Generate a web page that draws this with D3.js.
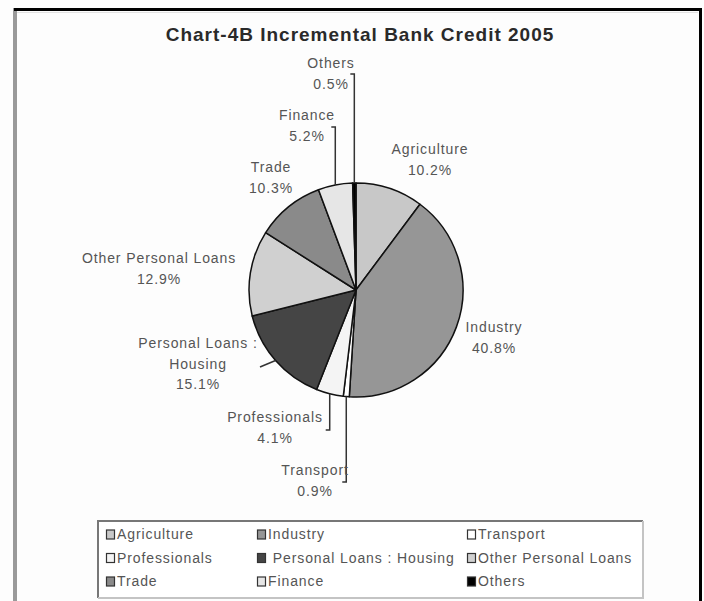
<!DOCTYPE html>
<html>
 <head>
  <title>Chart-4B Incremental Bank Credit 2005</title>
  <script src="https://cdnjs.cloudflare.com/ajax/libs/d3/7.8.3/d3.min.js"></script>
  <style>
   body { margin: 0; background: #fff; }
   text { font-family: "Liberation Sans", Arial, sans-serif; }
  </style>
 </head>
 <body>
  <script>
   // data (order = clockwise from 12 o'clock)
   const categories = ["Agriculture", "Industry", "Transport", "Professionals",
                       "Personal Loans : Housing", "Other Personal Loans", "Trade", "Finance", "Others"];
   const shares = [10.2, 40.8, 0.9, 4.1, 15.1, 12.9, 10.3, 5.2, 0.5];
   const labelNames = [["Agriculture"], ["Industry"], ["Transport"], ["Professionals"],
                       ["Personal Loans :", "Housing"], ["Other Personal Loans"], ["Trade"], ["Finance"], ["Others"]];
   const legendNames = ["Agriculture", "Industry", "Transport", "Professionals",
                        " Personal Loans : Housing", "Other Personal Loans", "Trade", "Finance", "Others"];
   const fills = ["#c8c8c8", "#969696", "#ffffff", "#f4f4f4", "#454545", "#d0d0d0", "#8a8a8a", "#e6e6e6", "#000000"];

   const w = 704, h = 601;
   const cx = 356, cy = 290, r = 107;

   // label placement (centre of first text line, relative to pie centre)
   const labelOff = {
     "Agriculture": [74, -141],
     "Industry": [138, 37],
     "Transport": [-41, 180],
     "Professionals": [-81, 127],
     "Personal Loans : Housing": [-158, 53],
     "Other Personal Loans": [-197, -32],
     "Trade": [-85, -123],
     "Finance": [-49, -175],
     "Others": [-25, -227]
   };
   // leader lines: "v" = vertical from the rim to tick y, then short tick left
   const leaders = {
     "Others": {type: "v", y: -216},
     "Finance": {type: "v", y: -163},
     "Professionals": {type: "v", y: 140},
     "Transport": {type: "v", y: 192},
     "Personal Loans : Housing": {type: "s", to: [-96, 77]}
   };

   const svg = d3.select("body").append("svg")
                 .attr("width", w)
                 .attr("height", h);

   // frame
   svg.append("rect").attr("x", 0).attr("y", 0).attr("width", w).attr("height", h).attr("fill", "#fdfdfd");
   svg.append("line").attr("x1", 17).attr("x2", 698).attr("y1", 12.5).attr("y2", 12.5)
      .attr("stroke", "#e2e2e2").attr("stroke-width", 1);
   svg.append("line").attr("x1", 15).attr("x2", 15).attr("y1", 8).attr("y2", h)
      .attr("stroke", "#9a9a9a").attr("stroke-width", 4);
   svg.append("line").attr("x1", 14).attr("x2", 702).attr("y1", 9.5).attr("y2", 9.5)
      .attr("stroke", "#000").attr("stroke-width", 3);
   svg.append("line").attr("x1", 700.5).attr("x2", 700.5).attr("y1", 8).attr("y2", h)
      .attr("stroke", "#000").attr("stroke-width", 3);

   svg.append("text")
      .attr("x", 360)
      .attr("y", 41)
      .attr("text-anchor", "middle")
      .attr("font-size", 19)
      .attr("font-weight", "bold")
      .attr("letter-spacing", 1)
      .attr("fill", "#2a2a2a")
      .text("Chart-4B Incremental Bank Credit 2005");

   const data = categories.map((c, i) => ({name: c, value: shares[i], fill: fills[i], lines: labelNames[i]}));
   const pie = d3.pie().sort(null).value(d => d.value);
   const arc = d3.arc().innerRadius(0).outerRadius(r);
   const arcs = pie(data);

   const g = svg.append("g").attr("transform", "translate(" + cx + "," + cy + ")");
   g.selectAll("path.slice")
    .data(arcs)
    .enter()
    .append("path")
    .attr("class", "slice")
    .attr("d", arc)
    .attr("fill", d => d.data.fill)
    .attr("stroke", "#111")
    .attr("stroke-width", 1.5)
    .attr("stroke-linejoin", "round");

   // leader lines
   arcs.forEach(d => {
     const L = leaders[d.data.name];
     if (!L) return;
     const a = (d.startAngle + d.endAngle) / 2;
     const ex = r * Math.sin(a), ey = -r * Math.cos(a);
     let pts;
     if (L.type === "v") pts = [[ex, ey], [ex, L.y], [ex - 4, L.y]];
     else pts = [[ex, ey], L.to];
     g.append("path")
      .attr("d", d3.line()(pts))
      .attr("fill", "none")
      .attr("stroke", "#333")
      .attr("stroke-width", 1.5);
   });

   const fmt = d3.format(".1f");
   arcs.forEach(d => {
     const off = labelOff[d.data.name];
     const lines = d.data.lines.concat([fmt(d.data.value) + "%"]);
     g.append("text")
      .attr("text-anchor", "middle")
      .attr("font-size", 14)
      .attr("letter-spacing", 0.9)
      .attr("fill", "#555")
      .selectAll("tspan")
      .data(lines)
      .enter()
      .append("tspan")
      .attr("x", off[0])
      .attr("y", (t, i) => off[1] + 5 + i * 20.5)
      .text(t => t);
   });

   // legend
   const lx = 98, ly = 521, lw = 545, lh = 77;
   const legend = svg.append("g");
   legend.append("rect").attr("x", lx).attr("y", ly).attr("width", lw).attr("height", lh)
         .attr("fill", "#fff").attr("stroke", "none");
   legend.append("path").attr("d", d3.line()([[lx, ly + lh], [lx, ly], [lx + lw, ly]]))
         .attr("fill", "none").attr("stroke", "#777").attr("stroke-width", 2);
   legend.append("path").attr("d", d3.line()([[lx + lw, ly], [lx + lw, ly + lh], [lx, ly + lh]]))
         .attr("fill", "none").attr("stroke", "#c4c4c4").attr("stroke-width", 2);

   const colX = [106, 257, 467];
   const rowY = [534, 557.5, 581];
   const items = legend.selectAll("g.item")
     .data(data)
     .enter()
     .append("g")
     .attr("class", "item")
     .attr("transform", (d, i) => "translate(" + colX[i % 3] + "," + rowY[Math.floor(i / 3)] + ")");
   items.append("rect")
        .attr("x", 0.5).attr("y", -4)
        .attr("width", 8).attr("height", 9)
        .attr("fill", d => d.fill)
        .attr("stroke", "#333")
        .attr("stroke-width", 1.2);
   items.append("text")
        .attr("x", 11)
        .attr("y", 5)
        .attr("font-size", 14)
        .attr("letter-spacing", 0.9)
        .attr("fill", "#555")
        .style("white-space", "pre")
        .text((d, i) => legendNames[i]);
  </script>
 </body>
</html>
